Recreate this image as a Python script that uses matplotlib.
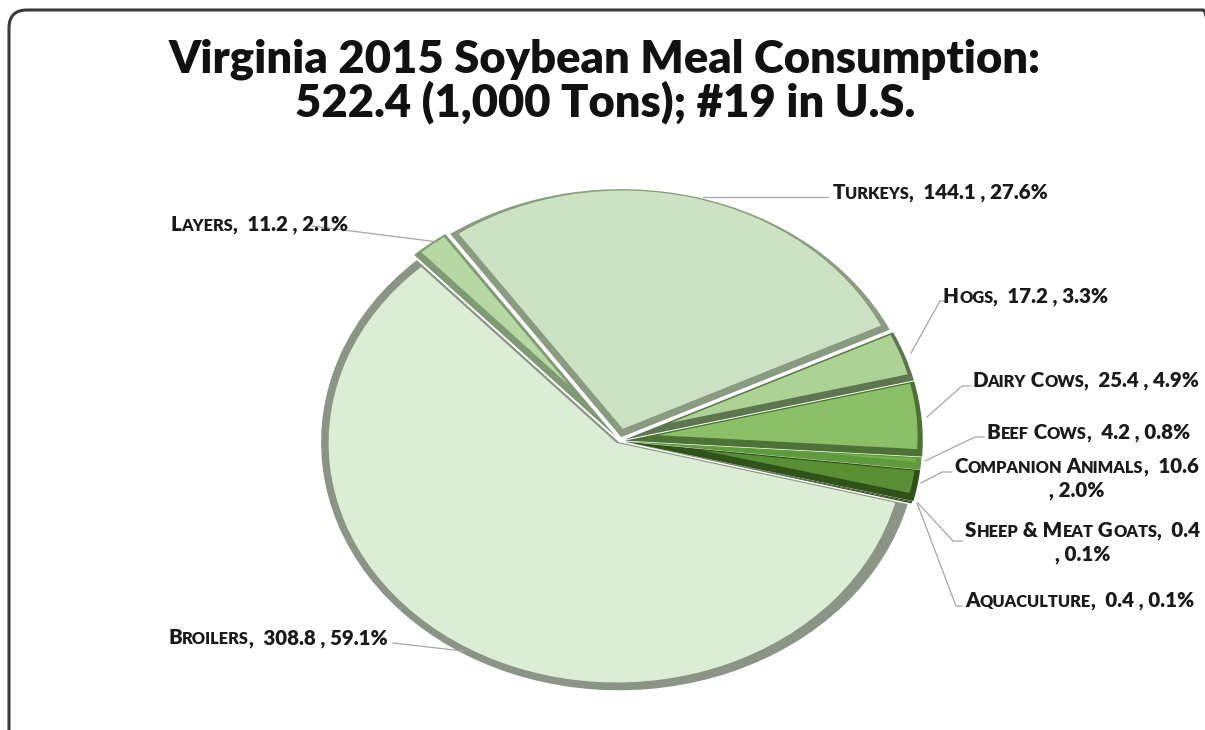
import numpy as np
import matplotlib
matplotlib.use("Agg")
import matplotlib.pyplot as plt
from matplotlib.patches import FancyBboxPatch
from matplotlib.transforms import Affine2D
from matplotlib.font_manager import FontProperties

# данные: потребление соевого шрота, Вирджиния 2015 (тыс. тонн)
categories = ["Turkeys", "Hogs", "Dairy Cows", "Beef Cows", "Companion Animals",
              "Sheep & Meat Goats", "Aquaculture", "Broilers", "Layers"]
amounts = [144.1, 17.2, 25.4, 4.2, 10.6, 0.4, 0.4, 308.8, 11.2]
shares = ["27.6%", "3.3%", "4.9%", "0.8%", "2.0%", "0.1%", "0.1%", "59.1%", "2.1%"]
title = "Virginia 2015 Soybean Meal Consumption:\n522.4 (1,000 Tons); #19 in U.S."

fill_colors = ["#cde2c3", "#acd294", "#8cc068", "#74b04a", "#588f34",
               "#4a7d2a", "#3f6e22", "#dcedd6", "#b6d8a3"]
rim_colors = ["#899b80", "#5d7650", "#4c7236", "#5f9a3c", "#2f5219",
              "#2c4d18", "#2a4716", "#8b9585", "#7f9a72"]
explode = [0.016, 0.016, 0.016, 0.014, 0.014, 0.01, 0.01, 0.006, 0.02]
wrapped = {"Companion Animals", "Sheep & Meat Goats"}

W, H = 1205, 730
FONT = ["Lato", "DejaVu Sans"]
WEIGHT = "heavy"

fig = plt.figure(figsize=(W / 100, H / 100), dpi=100)
ax = fig.add_axes([0, 0, 1, 1])
renderer = fig.canvas.get_renderer()

# пирог: тёмное «основание» (фаска), сверху светлая грань с отступом
cx, cy, rx, ry = 620, H - 438, 298, 248
base, _ = ax.pie(amounts, startangle=125, counterclock=False, explode=explode,
                 colors=rim_colors, wedgeprops=dict(linewidth=0))
top, _ = ax.pie(amounts, startangle=125, counterclock=False, explode=explode,
                colors=fill_colors, wedgeprops=dict(linewidth=0))
bevel = 0.017
for w in base:
    w.set_transform(Affine2D().scale(rx, ry).translate(cx, cy - 3) + ax.transData)
for w in top:
    half = np.deg2rad(abs(w.theta2 - w.theta1) / 2)
    mid = np.deg2rad((w.theta1 + w.theta2) / 2)
    s = bevel / max(np.sin(min(half, np.pi / 2)), 1e-3)
    r_new = 1 - bevel - s
    if r_new <= 0.05:
        w.set_visible(False)
        continue
    c0 = np.array(w.center)
    w.set_center(tuple(c0 + s * np.array([np.cos(mid), np.sin(mid)])))
    w.set_radius(r_new)
    w.set_transform(Affine2D().scale(rx, ry).translate(cx, cy) + ax.transData)

ax.set_aspect("auto")
ax.set_xlim(0, W)
ax.set_ylim(0, H)
ax.axis("off")


def measure(s, size):
    fp = FontProperties(family=FONT, weight=WEIGHT, size=size)
    w1 = renderer.get_text_width_height_descent("|" + s + "|", fp, ismath=False)[0]
    w0 = renderer.get_text_width_height_descent("||", fp, ismath=False)[0]
    return w1 - w0


def chunks(s):
    # капитель: строчные буквы -> прописные меньшего кегля
    out = []
    for ch in s:
        small = ch.islower()
        if out and out[-1][1] == small:
            out[-1][0] += ch
        else:
            out.append([ch, small])
    return [(c.upper() if sm else c, sm) for c, sm in out]


SC = 0.8


def line_width(s, size):
    return sum(measure(c, size * (SC if sm else 1)) for c, sm in chunks(s))


def draw_line(x, y, s, size):
    for c, sm in chunks(s):
        sz = size * (SC if sm else 1)
        ax.text(x, y, c, fontsize=sz, fontweight=WEIGHT, family=FONT,
                ha="left", va="baseline", color="#1a1a1a")
        x += measure(c, sz)


# подписи
label_lines = []
for name, amt, pct in zip(categories, amounts, shares):
    if name in wrapped:
        label_lines.append([f"{name},  {amt:.1f}", f", {pct}"])
    else:
        label_lines.append([f"{name},  {amt:.1f} , {pct}"])

size = 12.0
size *= 216 / line_width(label_lines[0][0], size)

label_pos = [(833, 199), (943, 303), (972, 387), (987, 439), (954, 473),
             (965, 537), (965, 607), (168, 644), (170, 231)]
for lines, (lx, ly) in zip(label_lines, label_pos):
    w0 = line_width(lines[0], size)
    draw_line(lx, H - ly, lines[0], size)
    if len(lines) > 1:
        w1 = line_width(lines[1], size)
        draw_line(lx + (w0 - w1) / 2, H - ly - 23, lines[1], size)

leaders = [
    [(828, 197), (703, 197)],
    [(948, 301), (940, 301), (911, 353)],
    [(970, 386), (962, 386), (927, 417)],
    [(984, 437), (975, 437), (925, 461)],
    [(951, 472), (942, 472), (921, 483)],
    [(962, 541), (953, 541), (918, 503)],
    [(962, 606), (956, 606), (917, 503)],
    [(393, 643), (463, 651)],
    [(312, 226), (438, 242)],
]
for pts in leaders:
    ax.plot([p[0] for p in pts], [H - p[1] for p in pts], color="#a6a6a6", lw=0.9)

# заголовок
tsize = 30.0
first, second = title.split("\n")
tsize *= 870 / measure(first, tsize)
ax.text(605, H - 59, first, fontsize=tsize, fontweight=WEIGHT, family=FONT,
        ha="center", va="center", color="#111111")
ax.text(605, H - 102, second, fontsize=tsize, fontweight=WEIGHT, family=FONT,
        ha="center", va="center", color="#111111")

# рамка области диаграммы
ax.add_patch(FancyBboxPatch((9, -40), 1212, 760, boxstyle="round,pad=0,rounding_size=18",
                            fill=False, edgecolor="#3a3a3a", linewidth=2.2))

fig.savefig("out.png", dpi=100)
